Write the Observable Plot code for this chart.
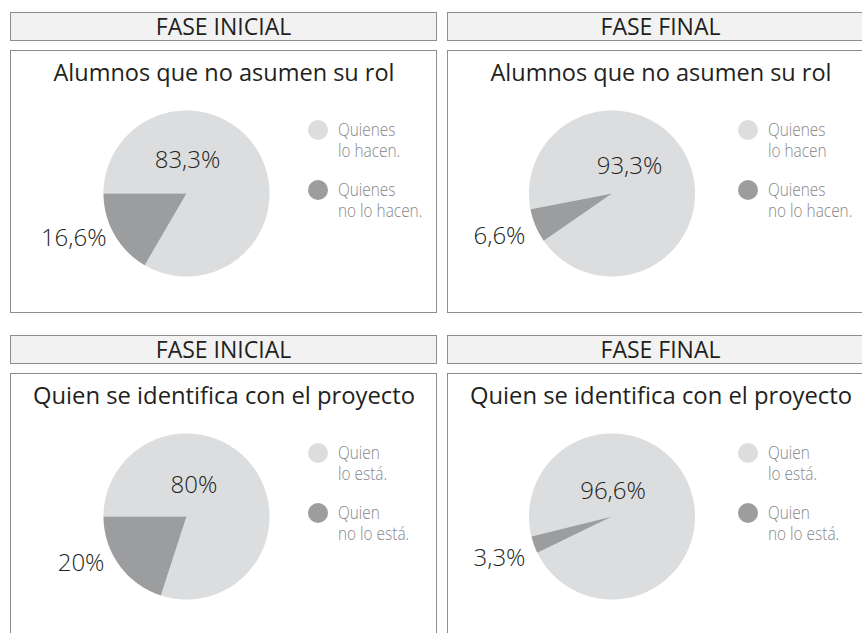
<!DOCTYPE html>
<html>
<head>
<meta charset="utf-8">
<script src="https://cdn.jsdelivr.net/npm/d3@7"></script>
<script src="https://cdn.jsdelivr.net/npm/@observablehq/plot@0.6"></script>
<style>
  html, body { margin: 0; padding: 0; background: #fff; }
  body { width: 862px; height: 633px; overflow: hidden; position: relative; font-family: "Open Sans", "Noto Sans", sans-serif; }
  .hdr { position: absolute; box-sizing: border-box; width: 427px; height: 29px; border: 1px solid #8e8e8e; background: #f2f2f2;
         text-align: center; font-size: 23px; line-height: 27px; color: #231f20; }
  .panel { position: absolute; box-sizing: border-box; width: 427px; height: 263px; border: 1px solid #8e8e8e; }
  .plotwrap { position: absolute; width: 427px; height: 263px; }
  .leg { position: absolute; font-family: "Open Sans", "Noto Sans", sans-serif; font-weight: 300;
         font-size: 19px; line-height: 21px; color: #858689; white-space: pre;
         transform: scaleX(0.81); transform-origin: 0 0; }
  .sw { position: absolute; width: 20px; height: 20px; border-radius: 50%; }
</style>
</head>
<body>
<script>
// ---- data ----
const phases = ["FASE INICIAL", "FASE FINAL", "FASE INICIAL", "FASE FINAL"];
const titles = ["Alumnos que no asumen su rol", "Alumnos que no asumen su rol",
                "Quien se identifica con el proyecto", "Quien se identifica con el proyecto"];
const mainValues  = [83.3, 93.3, 80, 96.6];
const minorValues = [16.6, 6.6, 20, 3.3];
const legendMain  = ["Quienes\nlo hacen.", "Quienes\nlo hacen", "Quien\nlo está.", "Quien\nlo está."];
const legendMinor = ["Quienes\nno lo hacen.", "Quienes\nno lo hacen.", "Quien\nno lo está.", "Quien\nno lo está."];

// ---- layout / style (not data) ----
const W = 427, H = 263, R = 83;
const boxes = [{left: 10, top: 50}, {left: 447, top: 50}, {left: 10, top: 373}, {left: 447, top: 373}];
const centers = [[176, 143], [164.5, 143], [176, 143], [164.5, 143]];
const rotation = [0, 11, 0, 14];                     // degrees the minor slice is turned below "west"
const bigLabel = [[1, -26], [17.5, -20], [7.5, -24], [1, -18]];      // px from pie centre
const smallLabel = [[-80, 52], [-86.5, 50], [-82, 54], [-86.5, 49]]; // px from pie centre (end anchor)
const legX = [[308, 328], [301, 320.7], [308, 328], [301, 320.7]];
const titleSize = [23.5, 23.5, 23.8, 23.8];
const LIGHT = "#dcdddf", DARK = "#9c9d9f", INK = "#231f20";

const fmt = v => String(v).replace(".", ",") + "%";

function arcPolygon(a0, a1) {
  // angles in degrees, clockwise from north; polygon from centre along the arc
  const pts = [{x: 0, y: 0}];
  const n = Math.max(2, Math.ceil(Math.abs(a1 - a0)));
  for (let i = 0; i <= n; i++) {
    const a = (a0 + (a1 - a0) * i / n) * Math.PI / 180;
    pts.push({x: Math.sin(a), y: Math.cos(a)});
  }
  return pts;
}

phases.forEach((phase, i) => {
  const b = boxes[i];
  const hdr = document.createElement("div");
  hdr.className = "hdr";
  hdr.style.left = b.left + "px";
  hdr.style.top = (b.top - 38) + "px";
  hdr.textContent = phase;
  document.body.appendChild(hdr);

  const panel = document.createElement("div");
  panel.className = "panel";
  panel.style.left = b.left + "px";
  panel.style.top = b.top + "px";
  document.body.appendChild(panel);

  const [cx, cy] = centers[i];
  const minor = minorValues[i], major = mainValues[i];
  const end = 270 - rotation[i];
  const start = end - minor / 100 * 360;
  const darkPts = arcPolygon(start, end);
  const lightPts = arcPolygon(end, start + 360);

  const bigPos = [{x: bigLabel[i][0] / R, y: -bigLabel[i][1] / R, t: fmt(major)}];
  const smallPos = [{x: smallLabel[i][0] / R, y: -smallLabel[i][1] / R, t: fmt(minor)}];

  const plot = Plot.plot({
    width: W, height: H,
    margin: 0,
    x: {domain: [-cx / R, (W - cx) / R], range: [0, W], axis: null},
    y: {domain: [cy / R, -(H - cy) / R], range: [0, H], axis: null},
    style: {fontFamily: "'Open Sans', 'Noto Sans', sans-serif", background: "transparent", overflow: "visible"},
    marks: [
      Plot.line(lightPts, {x: "x", y: "y", fill: LIGHT, stroke: "none", curve: "linear-closed"}),
      Plot.line(darkPts, {x: "x", y: "y", fill: DARK, stroke: "none", curve: "linear-closed"}),
      Plot.text([titles[i]], {frameAnchor: "top", lineAnchor: "bottom", dy: 30, text: d => d,
                              fontSize: titleSize[i], fill: INK}),
      Plot.text(bigPos, {x: "x", y: "y", text: "t", lineAnchor: "bottom", textAnchor: "middle",
                         fontSize: 24, fontWeight: 300, fill: INK}),
      Plot.text(smallPos, {x: "x", y: "y", text: "t", lineAnchor: "bottom", textAnchor: "end",
                           fontSize: 24, fontWeight: 300, fill: INK})
    ]
  });
  const wrap = document.createElement("div");
  wrap.className = "plotwrap";
  wrap.style.left = b.left + "px";
  wrap.style.top = b.top + "px";
  wrap.appendChild(plot);
  document.body.appendChild(wrap);

  // legend
  [[LIGHT, legendMain[i], 79.5], [DARK, legendMinor[i], 139.5]].forEach(([col, txt, yc]) => {
    const sw = document.createElement("div");
    sw.className = "sw";
    sw.style.background = col;
    sw.style.left = (b.left + legX[i][0] - 10) + "px";
    sw.style.top = (b.top + yc - 10) + "px";
    document.body.appendChild(sw);
    const t = document.createElement("div");
    t.className = "leg";
    t.style.left = (b.left + legX[i][1]) + "px";
    t.style.top = (b.top + yc - 11) + "px";
    t.textContent = txt;
    document.body.appendChild(t);
  });
});
</script>
</body>
</html>
